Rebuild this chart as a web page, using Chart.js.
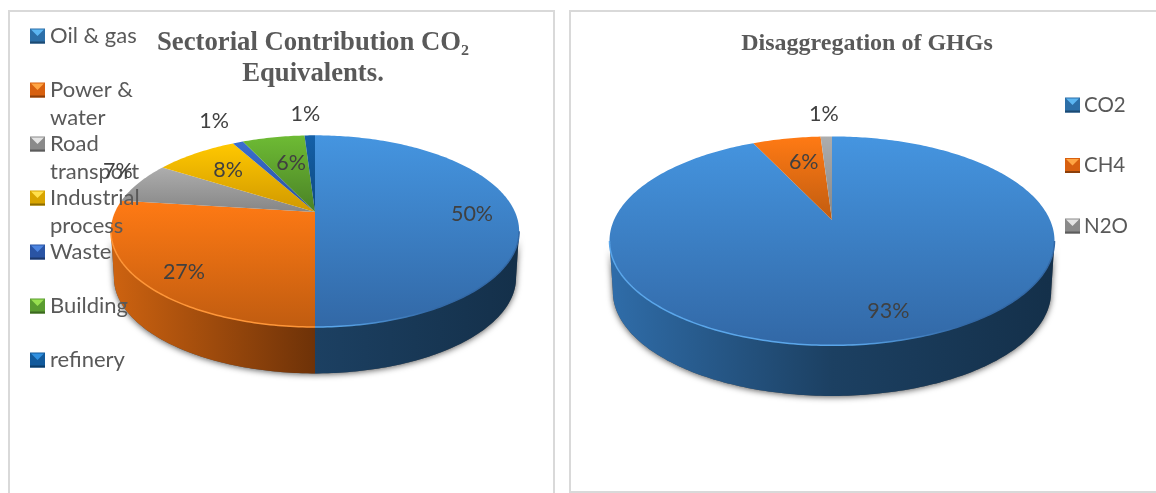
<!DOCTYPE html>
<html>
<head>
<meta charset="utf-8">
<title>Sectorial Contribution and GHGs</title>
<script src="https://cdn.jsdelivr.net/npm/chart.js@4"></script>
<style>
    html, body { margin: 0; padding: 0; background: #fff; overflow: hidden; }
    body { position: relative; width: 1156px; height: 493px; }
    .panel { position: absolute; box-sizing: border-box; border: 2px solid #d9d9d9; }
    #panelLeft { left: 8px; top: 10px; width: 547px; height: 483px; border-bottom: 0; }
    #panelRight { left: 569px; top: 10px; width: 600px; height: 483px; }
    canvas { position: absolute; top: 0; }
    #sectorChart { left: 0; }
    #ghgChart { left: 565px; }
</style>
</head>
<body>
<div class="panel" id="panelLeft"></div>
<div class="panel" id="panelRight"></div>
<canvas id="sectorChart" width="565" height="493"></canvas>
<canvas id="ghgChart" width="591" height="493"></canvas>
<script>
// sector pie
const sectorLabels = ['Oil & gas', 'Power & water', 'Road transport', 'Industrial process', 'Waste', 'Building', 'refinery'];
const sectorValues = [50, 27, 7, 8, 1, 6, 1];
const sectorLegendLines = [['Oil & gas'], ['Power &', 'water'], ['Road', 'transport'], ['Industrial', 'process'], ['Waste'], ['Building'], ['refinery']];

// gas pie
const ghgLabels = ['CO2', 'CH4', 'N2O'];
const ghgValues = [93, 6, 1];
const ghgLegendLines = [['CO2'], ['CH4'], ['N2O']];

// how the disc is tipped back
const TILT = -0.2;
const SQUASH = 0.46;
const DEPTH = 0.232;
const FOOT = 0.985;

const sectorStyle = {
    top: [['#4595e0', '#3268a6'], ['#ff7a14', '#c05c10'], ['#adadad', '#868686'], ['#ffc800', '#d09800'], ['#3a6fd0', '#2a4f9a'], ['#6ebb34', '#4a8226'], ['#1460a8', '#0f4a80']],
    rim: ['#5aa6ea', '#ff9638', '#c4c4c4', '#ffd84a', '#5a88dc', '#8ccc58', '#2c78c0'],
    wall: [['#2f6ca8', '#1c4062', '#14304a'], ['#cc6210', '#6e3208', '#6c3107'], ['#8a8a8a', '#666666', '#4a4a4a'], ['#c49400', '#8c6a00', '#6a5000'], ['#27488c', '#1c3468', '#14264c'], ['#4c8228', '#38601e', '#284616'], ['#0f4a80', '#0b3660', '#082848']],
    legend: [['#5cb6f2', '#2c6fa8', '#1c4a72'], ['#ffa544', '#d8600f', '#8c3f0a'], ['#e4e4e4', '#8a8a8a', '#5c5c5c'], ['#ffe04c', '#d8a400', '#8c6c00'], ['#4c84e0', '#2a54a4', '#1c386c'], ['#98e050', '#5a9c30', '#3c6820'], ['#3090e0', '#125a9c', '#0c3c68']]
};
const ghgStyle = {
    top: sectorStyle.top.slice(0, 3),
    rim: sectorStyle.rim.slice(0, 3),
    wall: sectorStyle.wall.slice(0, 3),
    legend: sectorStyle.legend.slice(0, 3)
};

// radial place of each value label, then a small nudge
const sectorLabelRadius = [0.785, 0.783, 1.128, 0.70, 1.387, 0.532, 1.354];
const sectorLabelNudge = [[0, 2], [0, 7], [0, -8], [0, 1], [0, 0], [0, -6], [-3, 0]];
const ghgLabelRadius = [0.79, 0.58, 1.34];
const ghgLabelNudge = [[12, 0], [0, -7], [-1, 0]];

const LABEL_FONT = '21.5px Lato';

// unit circle point to screen, the far side of the disc comes out shorter
function project(arc, angle) {
    const u = Math.cos(angle), v = Math.sin(angle);
    const w = 1 + TILT * v;
    const R = arc.outerRadius;
    return {
        x: arc.x + R * u / w,
        y: arc.y + SQUASH * R * v / w
    };
}

function footPoint(arc, angle) {
    const p = project(arc, angle);
    return {
        x: arc.x + (p.x - arc.x) * FOOT,
        y: p.y + DEPTH * arc.outerRadius
    };
}

function traceEdge(ctx, arc, from, to, mapper) {
    const steps = Math.max(2, Math.ceil(Math.abs(to - from) * 60));
    for (let i = 0; i <= steps; i++) {
        const p = mapper(arc, from + (to - from) * i / steps);
        ctx.lineTo(p.x, p.y);
    }
}

// only the near half of the disc shows a side wall
function wallRange(arc) {
    const edge = Math.asin(-TILT);
    const from = Math.max(arc.startAngle, edge);
    const to = Math.min(arc.endAngle, Math.PI - edge);
    return to > from ? [from, to] : null;
}

function drawWallShadow(ctx, arcs) {
    const first = arcs[0];
    const edge = Math.asin(-TILT);
    ctx.save();
    ctx.shadowColor = 'rgba(0,0,0,0.65)';
    ctx.shadowBlur = 6;
    ctx.shadowOffsetY = 1;
    ctx.fillStyle = '#555';
    ctx.beginPath();
    traceEdge(ctx, first, edge, Math.PI - edge, footPoint);
    traceEdge(ctx, first, Math.PI - edge, edge, project);
    ctx.closePath();
    ctx.fill();
    ctx.restore();
}

function drawWalls(ctx, arcs, style) {
    const R = arcs[0].outerRadius;
    arcs.forEach((arc, i) => {
        const range = wallRange(arc);
        if (!range) return;
        const grad = ctx.createLinearGradient(arc.x - R, 0, arc.x + R, 0);
        grad.addColorStop(0, style.wall[i][0]);
        grad.addColorStop(0.5, style.wall[i][1]);
        grad.addColorStop(1, style.wall[i][2]);
        ctx.fillStyle = grad;
        ctx.beginPath();
        traceEdge(ctx, arc, range[0], range[1], project);
        traceEdge(ctx, arc, range[1], range[0], footPoint);
        ctx.closePath();
        ctx.fill();
    });
}

// vertical extent of one slice, so each one gets its own light to dark run
function sliceExtent(arc) {
    let yMin = arc.y, yMax = arc.y;
    const steps = 60;
    for (let i = 0; i <= steps; i++) {
        const a = arc.startAngle + (arc.endAngle - arc.startAngle) * i / steps;
        const y = project(arc, a).y;
        yMin = Math.min(yMin, y);
        yMax = Math.max(yMax, y);
    }
    return [yMin, yMax];
}

function drawTops(ctx, arcs, style) {
    arcs.forEach((arc, i) => {
        const R = arc.outerRadius;
        const extent = sliceExtent(arc);
        const grad = ctx.createLinearGradient(0, extent[0], 0, extent[1]);
        grad.addColorStop(0, style.top[i][0]);
        grad.addColorStop(1, style.top[i][1]);
        ctx.fillStyle = grad;
        ctx.beginPath();
        ctx.moveTo(arc.x, arc.y);
        traceEdge(ctx, arc, arc.startAngle, arc.endAngle, project);
        ctx.closePath();
        ctx.fill();

        // lit bevel along the near edge, fading out to the right
        const range = wallRange(arc);
        if (range) {
            const bevel = ctx.createLinearGradient(arc.x - R, 0, arc.x + R, 0);
            bevel.addColorStop(0, style.rim[i]);
            bevel.addColorStop(0.55, style.rim[i]);
            bevel.addColorStop(0.8, style.top[i][1]);
            bevel.addColorStop(1, style.top[i][1]);
            ctx.strokeStyle = bevel;
            ctx.lineWidth = 1.5;
            ctx.beginPath();
            traceEdge(ctx, arc, range[0], range[1], project);
            ctx.stroke();
        }
    });
}

function drawValueLabels(ctx, arcs, values, radius, nudge) {
    const total = values.reduce((a, b) => a + b, 0);
    ctx.font = LABEL_FONT;
    ctx.fillStyle = '#404040';
    ctx.textAlign = 'center';
    ctx.textBaseline = 'middle';
    arcs.forEach((arc, i) => {
        const mid = (arc.startAngle + arc.endAngle) / 2;
        const u = Math.cos(mid), v = Math.sin(mid), f = radius[i];
        const w = 1 + TILT * v * f;
        const x = arc.x + arc.outerRadius * u * f / w + nudge[i][0];
        const y = arc.y + SQUASH * arc.outerRadius * v * f / w + nudge[i][1];
        ctx.fillText(Math.round(values[i] / total * 100) + '%', x, y);
    });
}

function drawLegend(ctx, lines, colors, box) {
    ctx.font = box.font;
    ctx.textAlign = 'left';
    ctx.textBaseline = 'middle';
    lines.forEach((entry, i) => {
        const y = box.y + box.step * i;
        const s = box.size, x = box.x, t = y - s / 2;
        // bevelled swatch
        ctx.fillStyle = colors[i][1];
        ctx.fillRect(x, t, s, s);
        ctx.fillStyle = colors[i][0];
        ctx.beginPath();
        ctx.moveTo(x + 1, t + 1);
        ctx.lineTo(x + s - 1, t + 1);
        ctx.lineTo(x + s / 2, t + s / 2);
        ctx.closePath();
        ctx.fill();
        ctx.fillStyle = colors[i][2];
        ctx.fillRect(x, t + s - 2, s, 2);
        ctx.fillStyle = '#595959';
        entry.forEach((line, j) => {
            ctx.fillText(line, box.textX, y + j * box.lineGap);
        });
    });
}

function drawTitle(ctx, title) {
    ctx.fillStyle = '#595959';
    ctx.textAlign = 'center';
    ctx.textBaseline = 'middle';
    ctx.font = title.font;
    title.lines.forEach((line, i) => {
        ctx.fillText(line, title.x, title.y + i * title.gap);
    });
}

const discPlugin = {
    id: 'disc',
    beforeDatasetsDraw(chart, args, opts) {
        const ctx = chart.ctx;
        const arcs = chart.getDatasetMeta(0).data;
        ctx.save();
        drawWallShadow(ctx, arcs);
        drawWalls(ctx, arcs, opts.style);
        drawTops(ctx, arcs, opts.style);
        ctx.restore();
        return false;
    },
    afterDraw(chart, args, opts) {
        const ctx = chart.ctx;
        const arcs = chart.getDatasetMeta(0).data;
        ctx.save();
        drawTitle(ctx, opts.title);
        drawLegend(ctx, opts.legendLines, opts.style.legend, opts.legendBox);
        drawValueLabels(ctx, arcs, chart.data.datasets[0].data, opts.labelRadius, opts.labelNudge);
        ctx.restore();
    }
};

function makeDisc(id, labels, values, padding, discOptions) {
    return new Chart(document.getElementById(id).getContext('2d'), {
        type: 'pie',
        data: {
            labels: labels,
            datasets: [{
                data: values,
                borderWidth: 0,
                backgroundColor: discOptions.style.top.map(c => c[0])
            }]
        },
        options: {
            responsive: false,
            animation: false,
            layout: { padding: padding },
            plugins: {
                legend: { display: false },
                tooltip: { enabled: false },
                disc: discOptions
            }
        },
        plugins: [discPlugin]
    });
}

makeDisc('sectorChart', sectorLabels, sectorValues, { left: 115, right: 50, top: 12, bottom: 81 }, {
    style: sectorStyle,
    title: {
        lines: ['Sectorial Contribution CO\u2082', 'Equivalents.'],
        font: 'bold 26.7px "Liberation Serif"',
        x: 313, y: 43, gap: 31
    },
    legendLines: sectorLegendLines,
    legendBox: { x: 30, y: 36, step: 54, size: 15, textX: 50, lineGap: 28, font: '22px Lato' },
    labelRadius: sectorLabelRadius,
    labelNudge: sectorLabelNudge
});

makeDisc('ghgChart', ghgLabels, ghgValues, { left: 49, right: 106, top: 2, bottom: 55 }, {
    style: ghgStyle,
    title: {
        lines: ['Disaggregation of GHGs'],
        font: 'bold 24px "Liberation Serif"',
        x: 302, y: 44, gap: 0
    },
    legendLines: ghgLegendLines,
    legendBox: { x: 500, y: 105, step: 60.5, size: 15, textX: 519, lineGap: 28, font: '20.5px Lato' },
    labelRadius: ghgLabelRadius,
    labelNudge: ghgLabelNudge
});
</script>
</body>
</html>
